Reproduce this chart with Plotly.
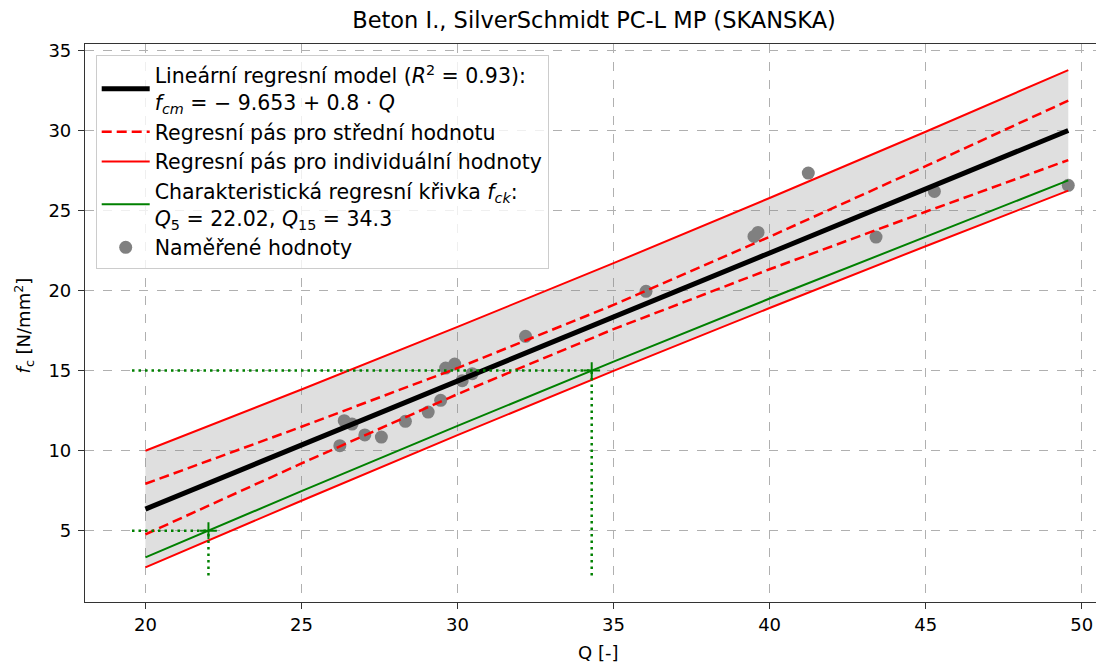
import plotly.graph_objects as go

# ---- data ----
q_grid = [20, 25, 30, 35, 40, 45, 49.57]
fcm_line = [6.35, 10.35, 14.35, 18.35, 22.35, 26.35, 30.00]
conf_upper = [7.93, 11.49, 15.16, 19.10, 23.36, 27.77, 31.86]
conf_lower = [4.77, 9.20, 13.53, 17.59, 21.33, 24.92, 28.15]
pred_upper = [9.99, 13.82, 17.73, 21.71, 25.78, 29.92, 33.77]
pred_lower = [2.71, 6.87, 10.97, 14.98, 18.91, 22.77, 26.24]
fck_line = [3.33, 7.47, 11.55, 15.56, 19.50, 23.38, 26.88]

q_meas = [26.23, 26.37, 26.62, 27.03, 27.56, 28.33, 29.06, 29.46, 29.62, 29.91,
          30.15, 30.47, 32.18, 36.04, 39.50, 39.63, 41.24, 43.41, 45.28, 49.57]
fc_meas = [10.31, 11.87, 11.66, 10.98, 10.85, 11.83, 12.41, 13.14, 15.16, 15.41,
           14.37, 14.81, 17.14, 19.95, 23.38, 23.63, 27.34, 23.34, 26.19, 26.57]

q5, q15 = 22.02, 34.3
f5, f15 = 5, 15
ref_start_q = 19.57
ref_bottom_f = 2.2

x_ticks = [20, 25, 30, 35, 40, 45, 50]
y_ticks = [5, 10, 15, 20, 25, 30, 35]

FONT = "DejaVu Sans"
fig = go.Figure()

# grey prediction band fill
fig.add_trace(go.Scatter(
    x=q_grid + q_grid[::-1], y=pred_upper + pred_lower[::-1],
    fill="toself", fillcolor="rgba(128,128,128,0.25)", line=dict(width=0),
    mode="lines", showlegend=False, hoverinfo="skip"))

# measured points (drawn below lines, like matplotlib)
fig.add_trace(go.Scatter(
    x=q_meas, y=fc_meas, mode="markers", name="Naměřené hodnoty",
    marker=dict(color="#808080", size=13), legendrank=5))

# regression line
fig.add_trace(go.Scatter(
    x=q_grid, y=fcm_line, mode="lines", line=dict(color="black", width=5),
    name="Lineární regresní model (<i>R</i><sup>2</sup> = 0.93):<br>"
         "<i>f<sub>cm</sub></i> = − 9.653 + 0.8 · <i>Q</i>",
    legendrank=1))

# confidence band (dashed)
fig.add_trace(go.Scatter(
    x=q_grid, y=conf_upper, mode="lines",
    line=dict(color="red", width=2.5, dash="10px,5px"),
    name="Regresní pás pro střední hodnotu", legendgroup="conf", legendrank=2))
fig.add_trace(go.Scatter(
    x=q_grid, y=conf_lower, mode="lines",
    line=dict(color="red", width=2.5, dash="10px,5px"),
    name="conf_low", legendgroup="conf", showlegend=False))

# prediction band (solid)
fig.add_trace(go.Scatter(
    x=q_grid, y=pred_upper, mode="lines", line=dict(color="red", width=2),
    name="Regresní pás pro individuální hodnoty", legendgroup="pred", legendrank=3))
fig.add_trace(go.Scatter(
    x=q_grid, y=pred_lower, mode="lines", line=dict(color="red", width=2),
    name="pred_low", legendgroup="pred", showlegend=False))

# characteristic curve
fig.add_trace(go.Scatter(
    x=q_grid, y=fck_line, mode="lines", line=dict(color="green", width=2),
    name="Charakteristická regresní křivka <i>f<sub>ck</sub></i>:<br>"
         "<i>Q</i><sub>5</sub> = 22.02, <i>Q</i><sub>15</sub> = 34.3",
    legendrank=4))

# reference dotted lines
dot = dict(color="green", width=2.5, dash="2.5px,4px")
for qv, fv in [(q5, f5), (q15, f15)]:
    fig.add_trace(go.Scatter(x=[ref_start_q, qv], y=[fv, fv], mode="lines",
                             line=dot, showlegend=False, hoverinfo="skip"))
    fig.add_trace(go.Scatter(x=[qv, qv], y=[ref_bottom_f, fv], mode="lines",
                             line=dot, showlegend=False, hoverinfo="skip"))
fig.add_trace(go.Scatter(
    x=[q5, q15], y=[f5, f15], mode="markers", showlegend=False,
    marker=dict(symbol="cross-thin", size=12, line=dict(color="green", width=2))))

axis_common = dict(
    showgrid=True, gridcolor="#b0b0b0", griddash="dash", gridwidth=1,
    zeroline=False, showline=True, linecolor="#333333", linewidth=1.2,
    ticks="outside", ticklen=6, tickcolor="#333333", tickwidth=1.2,
    tickfont=dict(family=FONT, size=18, color="black"))

# The page body has an 8px margin, so the figure is 8px smaller and offset.
fig.update_layout(
    width=1096, height=657,
    margin=dict(l=77, r=0, t=36, b=63),
    paper_bgcolor="white", plot_bgcolor="white",
    font=dict(family=FONT, size=18, color="black"),
    title=dict(text="Beton I., SilverSchmidt PC-L MP (SKANSKA)",
               x=0.5347, xref="container", xanchor="center",
               y=0.994, yref="container", yanchor="top",
               font=dict(family=FONT, size=22.5, color="black")),
    xaxis=dict(range=[18.064, 50.715], tickvals=x_ticks, mirror=True,
               automargin=False, **axis_common),
    yaxis=dict(range=[0.546, 35.40], tickvals=y_ticks, mirror=False,
               automargin=False, ticklabelstandoff=3, **axis_common),
    legend=dict(x=0.0105, y=0.981, xanchor="left", yanchor="top",
                bgcolor="rgba(255,255,255,0.8)", bordercolor="#cccccc", borderwidth=1,
                font=dict(family=FONT, size=20.5, color="black"),
                itemwidth=48, traceorder="normal", valign="middle"),
    showlegend=True,
    annotations=[
        dict(text="Q [-]", xref="paper", yref="paper", x=0.503, y=-0.0909,
             xanchor="center", yanchor="middle", showarrow=False,
             font=dict(family=FONT, size=18, color="black")),
        dict(text="<i>f</i><sub>c</sub> [N/mm<sup>2</sup>]", xref="paper", yref="paper",
             x=-0.0602, y=0.495, xanchor="center", yanchor="middle", textangle=-90,
             showarrow=False, font=dict(family=FONT, size=18, color="black")),
    ],
)

fig.write_html("out.html")
